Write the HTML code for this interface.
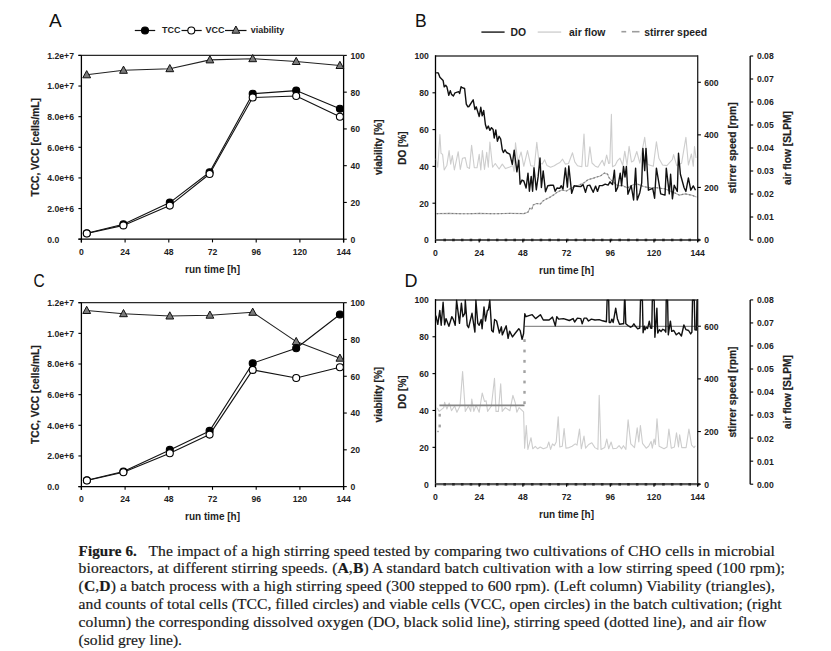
<!DOCTYPE html>
<html><head><meta charset="utf-8"><title>Figure 6</title>
<style>
html,body{margin:0;padding:0;background:#fff;}
body{width:831px;height:651px;overflow:hidden;}
svg{display:block;}
text{font-family:"Liberation Sans", sans-serif;}
text.cap{font-family:"Liberation Serif", serif;}
</style></head>
<body>
<svg width="831" height="651" viewBox="0 0 831 651">
<rect width="831" height="651" fill="#fff"/>
<line x1="78.4" y1="55.4" x2="343.6" y2="55.4" stroke="#2a2a2a" stroke-width="1.3" />
<line x1="81.4" y1="55.4" x2="81.4" y2="242.39999999999998" stroke="#000" stroke-width="1.3" />
<line x1="78.4" y1="239.2" x2="343.6" y2="239.2" stroke="#000" stroke-width="1.3" />
<line x1="343.6" y1="55.4" x2="343.6" y2="242.39999999999998" stroke="#000" stroke-width="1.3" />
<line x1="78.4" y1="239.2" x2="81.4" y2="239.2" stroke="#000" stroke-width="1.1" />
<text transform="translate(47.30,242.60) scale(0.92,1)" font-size="9.4" text-anchor="start" font-weight="bold" fill="#1e1e1e">0.0</text>
<line x1="78.4" y1="208.56666666666666" x2="81.4" y2="208.56666666666666" stroke="#000" stroke-width="1.1" />
<text transform="translate(47.30,211.97) scale(0.92,1)" font-size="9.4" text-anchor="start" font-weight="bold" fill="#1e1e1e">2.0e+6</text>
<line x1="78.4" y1="177.93333333333334" x2="81.4" y2="177.93333333333334" stroke="#000" stroke-width="1.1" />
<text transform="translate(47.30,181.33) scale(0.92,1)" font-size="9.4" text-anchor="start" font-weight="bold" fill="#1e1e1e">4.0e+6</text>
<line x1="78.4" y1="147.3" x2="81.4" y2="147.3" stroke="#000" stroke-width="1.1" />
<text transform="translate(47.30,150.70) scale(0.92,1)" font-size="9.4" text-anchor="start" font-weight="bold" fill="#1e1e1e">6.0e+6</text>
<line x1="78.4" y1="116.66666666666667" x2="81.4" y2="116.66666666666667" stroke="#000" stroke-width="1.1" />
<text transform="translate(47.30,120.07) scale(0.92,1)" font-size="9.4" text-anchor="start" font-weight="bold" fill="#1e1e1e">8.0e+6</text>
<line x1="78.4" y1="86.03333333333333" x2="81.4" y2="86.03333333333333" stroke="#000" stroke-width="1.1" />
<text transform="translate(47.30,89.43) scale(0.92,1)" font-size="9.4" text-anchor="start" font-weight="bold" fill="#1e1e1e">1.0e+7</text>
<line x1="78.4" y1="55.400000000000006" x2="81.4" y2="55.400000000000006" stroke="#000" stroke-width="1.1" />
<text transform="translate(47.30,58.80) scale(0.92,1)" font-size="9.4" text-anchor="start" font-weight="bold" fill="#1e1e1e">1.2e+7</text>
<line x1="343.6" y1="239.2" x2="346.8" y2="239.2" stroke="#000" stroke-width="1.1" />
<text transform="translate(350.40,242.60) scale(0.92,1)" font-size="9.4" text-anchor="start" font-weight="bold" fill="#1e1e1e">0</text>
<line x1="343.6" y1="202.44" x2="346.8" y2="202.44" stroke="#000" stroke-width="1.1" />
<text transform="translate(350.40,205.84) scale(0.92,1)" font-size="9.4" text-anchor="start" font-weight="bold" fill="#1e1e1e">20</text>
<line x1="343.6" y1="165.68" x2="346.8" y2="165.68" stroke="#000" stroke-width="1.1" />
<text transform="translate(350.40,169.08) scale(0.92,1)" font-size="9.4" text-anchor="start" font-weight="bold" fill="#1e1e1e">40</text>
<line x1="343.6" y1="128.92" x2="346.8" y2="128.92" stroke="#000" stroke-width="1.1" />
<text transform="translate(350.40,132.32) scale(0.92,1)" font-size="9.4" text-anchor="start" font-weight="bold" fill="#1e1e1e">60</text>
<line x1="343.6" y1="92.16" x2="346.8" y2="92.16" stroke="#000" stroke-width="1.1" />
<text transform="translate(350.40,95.56) scale(0.92,1)" font-size="9.4" text-anchor="start" font-weight="bold" fill="#1e1e1e">80</text>
<line x1="343.6" y1="55.400000000000006" x2="346.8" y2="55.400000000000006" stroke="#000" stroke-width="1.1" />
<text transform="translate(350.40,58.80) scale(0.92,1)" font-size="9.4" text-anchor="start" font-weight="bold" fill="#1e1e1e">100</text>
<line x1="81.4" y1="239.2" x2="81.4" y2="242.39999999999998" stroke="#000" stroke-width="1.1" />
<text transform="translate(81.40,255.00) scale(0.92,1)" font-size="9.4" text-anchor="middle" font-weight="bold" fill="#1e1e1e">0</text>
<line x1="125.10000000000002" y1="239.2" x2="125.10000000000002" y2="242.39999999999998" stroke="#000" stroke-width="1.1" />
<text transform="translate(125.10,255.00) scale(0.92,1)" font-size="9.4" text-anchor="middle" font-weight="bold" fill="#1e1e1e">24</text>
<line x1="168.8" y1="239.2" x2="168.8" y2="242.39999999999998" stroke="#000" stroke-width="1.1" />
<text transform="translate(168.80,255.00) scale(0.92,1)" font-size="9.4" text-anchor="middle" font-weight="bold" fill="#1e1e1e">48</text>
<line x1="212.50000000000003" y1="239.2" x2="212.50000000000003" y2="242.39999999999998" stroke="#000" stroke-width="1.1" />
<text transform="translate(212.50,255.00) scale(0.92,1)" font-size="9.4" text-anchor="middle" font-weight="bold" fill="#1e1e1e">72</text>
<line x1="256.20000000000005" y1="239.2" x2="256.20000000000005" y2="242.39999999999998" stroke="#000" stroke-width="1.1" />
<text transform="translate(256.20,255.00) scale(0.92,1)" font-size="9.4" text-anchor="middle" font-weight="bold" fill="#1e1e1e">96</text>
<line x1="299.90000000000003" y1="239.2" x2="299.90000000000003" y2="242.39999999999998" stroke="#000" stroke-width="1.1" />
<text transform="translate(299.90,255.00) scale(0.92,1)" font-size="9.4" text-anchor="middle" font-weight="bold" fill="#1e1e1e">120</text>
<line x1="343.6" y1="239.2" x2="343.6" y2="242.39999999999998" stroke="#000" stroke-width="1.1" />
<text transform="translate(343.60,255.00) scale(0.92,1)" font-size="9.4" text-anchor="middle" font-weight="bold" fill="#1e1e1e">144</text>
<polyline points="86.7,74.8 123.5,70.3 169.8,68.7 209.9,59.9 252.7,58.7 296.2,61.5 339.9,65.5" fill="none" stroke="#222" stroke-width="1.1" stroke-linejoin="round" />
<polyline points="86.8,233.3 123.4,224.3 169.8,202.6 209.6,172.2 252.7,93.7 296.2,90.6 339.9,108.7" fill="none" stroke="#111" stroke-width="1.1" stroke-linejoin="round" />
<polyline points="86.8,233.5 123.4,225.4 169.8,205.6 209.6,174.0 252.7,97.5 296.2,96.0 339.9,116.8" fill="none" stroke="#111" stroke-width="1.1" stroke-linejoin="round" />
<path d="M86.7,70.6 L90.60000000000001,77.8 L82.8,77.8 Z" fill="#7a7a7a" stroke="#111" stroke-width="1"/>
<path d="M123.5,66.1 L127.4,73.3 L119.6,73.3 Z" fill="#7a7a7a" stroke="#111" stroke-width="1"/>
<path d="M169.8,64.5 L173.70000000000002,71.7 L165.9,71.7 Z" fill="#7a7a7a" stroke="#111" stroke-width="1"/>
<path d="M209.9,55.7 L213.8,62.9 L206.0,62.9 Z" fill="#7a7a7a" stroke="#111" stroke-width="1"/>
<path d="M252.7,54.50000000000001 L256.59999999999997,61.7 L248.79999999999998,61.7 Z" fill="#7a7a7a" stroke="#111" stroke-width="1"/>
<path d="M296.2,57.300000000000004 L300.09999999999997,64.5 L292.3,64.5 Z" fill="#7a7a7a" stroke="#111" stroke-width="1"/>
<path d="M339.9,61.3 L343.79999999999995,68.5 L336.0,68.5 Z" fill="#7a7a7a" stroke="#111" stroke-width="1"/>
<circle cx="86.8" cy="233.3" r="3.5" fill="#000" stroke="#000" stroke-width="1.1"/>
<circle cx="123.4" cy="224.3" r="3.5" fill="#000" stroke="#000" stroke-width="1.1"/>
<circle cx="169.8" cy="202.6" r="3.5" fill="#000" stroke="#000" stroke-width="1.1"/>
<circle cx="209.6" cy="172.2" r="3.5" fill="#000" stroke="#000" stroke-width="1.1"/>
<circle cx="252.7" cy="93.7" r="3.5" fill="#000" stroke="#000" stroke-width="1.1"/>
<circle cx="296.2" cy="90.6" r="3.5" fill="#000" stroke="#000" stroke-width="1.1"/>
<circle cx="339.9" cy="108.7" r="3.5" fill="#000" stroke="#000" stroke-width="1.1"/>
<circle cx="86.8" cy="233.5" r="3.5" fill="#fff" stroke="#000" stroke-width="1.1"/>
<circle cx="123.4" cy="225.4" r="3.5" fill="#fff" stroke="#000" stroke-width="1.1"/>
<circle cx="169.8" cy="205.6" r="3.5" fill="#fff" stroke="#000" stroke-width="1.1"/>
<circle cx="209.6" cy="174.0" r="3.5" fill="#fff" stroke="#000" stroke-width="1.1"/>
<circle cx="252.7" cy="97.5" r="3.5" fill="#fff" stroke="#000" stroke-width="1.1"/>
<circle cx="296.2" cy="96.0" r="3.5" fill="#fff" stroke="#000" stroke-width="1.1"/>
<circle cx="339.9" cy="116.8" r="3.5" fill="#fff" stroke="#000" stroke-width="1.1"/>
<text x="212.5" y="273.0" font-size="10" text-anchor="middle" font-weight="bold" fill="#1e1e1e" >run time [h]</text>
<text transform="translate(35.7,147.29999999999998) rotate(-90)" x="0" y="3.67" font-size="10.2" text-anchor="middle" font-weight="bold" fill="#1e1e1e" stroke="#1e1e1e" stroke-width="0.2">TCC, VCC [cells/mL]</text>
<text transform="translate(378.6,147.29999999999998) rotate(-90)" x="0" y="3.60" font-size="10" text-anchor="middle" font-weight="bold" fill="#1e1e1e" stroke="#1e1e1e" stroke-width="0.2">viability [%]</text>
<line x1="78.4" y1="302.7" x2="343.6" y2="302.7" stroke="#2a2a2a" stroke-width="1.3" />
<line x1="81.4" y1="302.7" x2="81.4" y2="489.8" stroke="#000" stroke-width="1.3" />
<line x1="78.4" y1="486.6" x2="343.6" y2="486.6" stroke="#000" stroke-width="1.3" />
<line x1="343.6" y1="302.7" x2="343.6" y2="489.8" stroke="#000" stroke-width="1.3" />
<line x1="78.4" y1="486.6" x2="81.4" y2="486.6" stroke="#000" stroke-width="1.1" />
<text transform="translate(47.30,490.00) scale(0.92,1)" font-size="9.4" text-anchor="start" font-weight="bold" fill="#1e1e1e">0.0</text>
<line x1="78.4" y1="455.95000000000005" x2="81.4" y2="455.95000000000005" stroke="#000" stroke-width="1.1" />
<text transform="translate(47.30,459.35) scale(0.92,1)" font-size="9.4" text-anchor="start" font-weight="bold" fill="#1e1e1e">2.0e+6</text>
<line x1="78.4" y1="425.3" x2="81.4" y2="425.3" stroke="#000" stroke-width="1.1" />
<text transform="translate(47.30,428.70) scale(0.92,1)" font-size="9.4" text-anchor="start" font-weight="bold" fill="#1e1e1e">4.0e+6</text>
<line x1="78.4" y1="394.65000000000003" x2="81.4" y2="394.65000000000003" stroke="#000" stroke-width="1.1" />
<text transform="translate(47.30,398.05) scale(0.92,1)" font-size="9.4" text-anchor="start" font-weight="bold" fill="#1e1e1e">6.0e+6</text>
<line x1="78.4" y1="364.0" x2="81.4" y2="364.0" stroke="#000" stroke-width="1.1" />
<text transform="translate(47.30,367.40) scale(0.92,1)" font-size="9.4" text-anchor="start" font-weight="bold" fill="#1e1e1e">8.0e+6</text>
<line x1="78.4" y1="333.35" x2="81.4" y2="333.35" stroke="#000" stroke-width="1.1" />
<text transform="translate(47.30,336.75) scale(0.92,1)" font-size="9.4" text-anchor="start" font-weight="bold" fill="#1e1e1e">1.0e+7</text>
<line x1="78.4" y1="302.70000000000005" x2="81.4" y2="302.70000000000005" stroke="#000" stroke-width="1.1" />
<text transform="translate(47.30,306.10) scale(0.92,1)" font-size="9.4" text-anchor="start" font-weight="bold" fill="#1e1e1e">1.2e+7</text>
<line x1="343.6" y1="486.6" x2="346.8" y2="486.6" stroke="#000" stroke-width="1.1" />
<text transform="translate(350.40,490.00) scale(0.92,1)" font-size="9.4" text-anchor="start" font-weight="bold" fill="#1e1e1e">0</text>
<line x1="343.6" y1="449.82" x2="346.8" y2="449.82" stroke="#000" stroke-width="1.1" />
<text transform="translate(350.40,453.22) scale(0.92,1)" font-size="9.4" text-anchor="start" font-weight="bold" fill="#1e1e1e">20</text>
<line x1="343.6" y1="413.04" x2="346.8" y2="413.04" stroke="#000" stroke-width="1.1" />
<text transform="translate(350.40,416.44) scale(0.92,1)" font-size="9.4" text-anchor="start" font-weight="bold" fill="#1e1e1e">40</text>
<line x1="343.6" y1="376.26" x2="346.8" y2="376.26" stroke="#000" stroke-width="1.1" />
<text transform="translate(350.40,379.66) scale(0.92,1)" font-size="9.4" text-anchor="start" font-weight="bold" fill="#1e1e1e">60</text>
<line x1="343.6" y1="339.48" x2="346.8" y2="339.48" stroke="#000" stroke-width="1.1" />
<text transform="translate(350.40,342.88) scale(0.92,1)" font-size="9.4" text-anchor="start" font-weight="bold" fill="#1e1e1e">80</text>
<line x1="343.6" y1="302.7" x2="346.8" y2="302.7" stroke="#000" stroke-width="1.1" />
<text transform="translate(350.40,306.10) scale(0.92,1)" font-size="9.4" text-anchor="start" font-weight="bold" fill="#1e1e1e">100</text>
<line x1="81.4" y1="486.6" x2="81.4" y2="489.8" stroke="#000" stroke-width="1.1" />
<text transform="translate(81.40,502.40) scale(0.92,1)" font-size="9.4" text-anchor="middle" font-weight="bold" fill="#1e1e1e">0</text>
<line x1="125.10000000000002" y1="486.6" x2="125.10000000000002" y2="489.8" stroke="#000" stroke-width="1.1" />
<text transform="translate(125.10,502.40) scale(0.92,1)" font-size="9.4" text-anchor="middle" font-weight="bold" fill="#1e1e1e">24</text>
<line x1="168.8" y1="486.6" x2="168.8" y2="489.8" stroke="#000" stroke-width="1.1" />
<text transform="translate(168.80,502.40) scale(0.92,1)" font-size="9.4" text-anchor="middle" font-weight="bold" fill="#1e1e1e">48</text>
<line x1="212.50000000000003" y1="486.6" x2="212.50000000000003" y2="489.8" stroke="#000" stroke-width="1.1" />
<text transform="translate(212.50,502.40) scale(0.92,1)" font-size="9.4" text-anchor="middle" font-weight="bold" fill="#1e1e1e">72</text>
<line x1="256.20000000000005" y1="486.6" x2="256.20000000000005" y2="489.8" stroke="#000" stroke-width="1.1" />
<text transform="translate(256.20,502.40) scale(0.92,1)" font-size="9.4" text-anchor="middle" font-weight="bold" fill="#1e1e1e">96</text>
<line x1="299.90000000000003" y1="486.6" x2="299.90000000000003" y2="489.8" stroke="#000" stroke-width="1.1" />
<text transform="translate(299.90,502.40) scale(0.92,1)" font-size="9.4" text-anchor="middle" font-weight="bold" fill="#1e1e1e">120</text>
<line x1="343.6" y1="486.6" x2="343.6" y2="489.8" stroke="#000" stroke-width="1.1" />
<text transform="translate(343.60,502.40) scale(0.92,1)" font-size="9.4" text-anchor="middle" font-weight="bold" fill="#1e1e1e">144</text>
<polyline points="86.7,310.5 123.5,313.7 169.8,316.0 209.9,315.2 252.7,312.3 296.2,341.6 339.9,358.2" fill="none" stroke="#222" stroke-width="1.1" stroke-linejoin="round" />
<polyline points="86.9,480.3 123.4,471.5 169.8,449.9 209.6,430.9 252.7,363.2 296.2,348.2 339.9,314.5" fill="none" stroke="#111" stroke-width="1.1" stroke-linejoin="round" />
<polyline points="86.9,480.5 123.4,472.3 169.8,453.3 209.6,434.6 252.7,369.9 296.2,378.0 339.9,367.2" fill="none" stroke="#111" stroke-width="1.1" stroke-linejoin="round" />
<path d="M86.7,306.3 L90.60000000000001,313.5 L82.8,313.5 Z" fill="#7a7a7a" stroke="#111" stroke-width="1"/>
<path d="M123.5,309.5 L127.4,316.7 L119.6,316.7 Z" fill="#7a7a7a" stroke="#111" stroke-width="1"/>
<path d="M169.8,311.8 L173.70000000000002,319.0 L165.9,319.0 Z" fill="#7a7a7a" stroke="#111" stroke-width="1"/>
<path d="M209.9,311.0 L213.8,318.2 L206.0,318.2 Z" fill="#7a7a7a" stroke="#111" stroke-width="1"/>
<path d="M252.7,308.1 L256.59999999999997,315.3 L248.79999999999998,315.3 Z" fill="#7a7a7a" stroke="#111" stroke-width="1"/>
<path d="M296.2,337.40000000000003 L300.09999999999997,344.6 L292.3,344.6 Z" fill="#7a7a7a" stroke="#111" stroke-width="1"/>
<path d="M339.9,354.0 L343.79999999999995,361.2 L336.0,361.2 Z" fill="#7a7a7a" stroke="#111" stroke-width="1"/>
<circle cx="86.9" cy="480.3" r="3.5" fill="#000" stroke="#000" stroke-width="1.1"/>
<circle cx="123.4" cy="471.5" r="3.5" fill="#000" stroke="#000" stroke-width="1.1"/>
<circle cx="169.8" cy="449.9" r="3.5" fill="#000" stroke="#000" stroke-width="1.1"/>
<circle cx="209.6" cy="430.9" r="3.5" fill="#000" stroke="#000" stroke-width="1.1"/>
<circle cx="252.7" cy="363.2" r="3.5" fill="#000" stroke="#000" stroke-width="1.1"/>
<circle cx="296.2" cy="348.2" r="3.5" fill="#000" stroke="#000" stroke-width="1.1"/>
<circle cx="339.9" cy="314.5" r="3.5" fill="#000" stroke="#000" stroke-width="1.1"/>
<circle cx="86.9" cy="480.5" r="3.5" fill="#fff" stroke="#000" stroke-width="1.1"/>
<circle cx="123.4" cy="472.3" r="3.5" fill="#fff" stroke="#000" stroke-width="1.1"/>
<circle cx="169.8" cy="453.3" r="3.5" fill="#fff" stroke="#000" stroke-width="1.1"/>
<circle cx="209.6" cy="434.6" r="3.5" fill="#fff" stroke="#000" stroke-width="1.1"/>
<circle cx="252.7" cy="369.9" r="3.5" fill="#fff" stroke="#000" stroke-width="1.1"/>
<circle cx="296.2" cy="378.0" r="3.5" fill="#fff" stroke="#000" stroke-width="1.1"/>
<circle cx="339.9" cy="367.2" r="3.5" fill="#fff" stroke="#000" stroke-width="1.1"/>
<text x="212.5" y="520.4" font-size="10" text-anchor="middle" font-weight="bold" fill="#1e1e1e" >run time [h]</text>
<text transform="translate(35.7,394.65) rotate(-90)" x="0" y="3.67" font-size="10.2" text-anchor="middle" font-weight="bold" fill="#1e1e1e" stroke="#1e1e1e" stroke-width="0.2">TCC, VCC [cells/mL]</text>
<text transform="translate(378.6,394.65) rotate(-90)" x="0" y="3.60" font-size="10" text-anchor="middle" font-weight="bold" fill="#1e1e1e" stroke="#1e1e1e" stroke-width="0.2">viability [%]</text>
<line x1="134.8" y1="30.5" x2="155.2" y2="30.5" stroke="#111" stroke-width="1.2" />
<circle cx="145" cy="30.5" r="3.5" fill="#000" stroke="#000" stroke-width="1.1"/>
<text x="162.0" y="33.3" font-size="9.0" text-anchor="start" font-weight="bold" fill="#1e1e1e" >TCC</text>
<line x1="181.5" y1="30.5" x2="201.7" y2="30.5" stroke="#111" stroke-width="1.2" />
<circle cx="191.3" cy="30.5" r="3.5" fill="#fff" stroke="#000" stroke-width="1.1"/>
<text x="205.6" y="33.3" font-size="9.0" text-anchor="start" font-weight="bold" fill="#1e1e1e" >VCC</text>
<line x1="225.0" y1="30.5" x2="246.5" y2="30.5" stroke="#111" stroke-width="1.2" />
<path d="M235.9,26.0 L239.8,33.2 L232.0,33.2 Z" fill="#7a7a7a" stroke="#111" stroke-width="1"/>
<text x="250.8" y="33.3" font-size="9.0" text-anchor="start" font-weight="bold" fill="#1e1e1e" >viability</text>
<text x="49.0" y="26.8" font-size="19" fill="#111">A</text>
<text x="415.0" y="26.9" font-size="17.5" fill="#111">B</text>
<text transform="translate(33.6,287.4) scale(0.84,1)" font-size="18.5" fill="#111">C</text>
<text x="404.6" y="287.4" font-size="18" fill="#111">D</text>
<line x1="435.5" y1="56.0" x2="697.7" y2="56.0" stroke="#6e6e6e" stroke-width="2" />
<line x1="435.5" y1="55.2" x2="435.5" y2="243.0" stroke="#000" stroke-width="1.3" />
<line x1="435.5" y1="240.0" x2="697.7" y2="240.0" stroke="#5a5a5a" stroke-width="2.2" />
<line x1="697.7" y1="55.2" x2="697.7" y2="242.0" stroke="#222" stroke-width="1.3" />
<line x1="443.4" y1="240.0" x2="699.7" y2="240.0" stroke="#262626" stroke-width="2.4" stroke-dasharray="2.6 6.15"/>
<text transform="translate(428.90,243.40) scale(0.92,1)" font-size="9.4" text-anchor="end" font-weight="bold" fill="#1e1e1e">0</text>
<line x1="432.5" y1="203.2" x2="435.5" y2="203.2" stroke="#000" stroke-width="1.1" />
<text transform="translate(428.90,206.60) scale(0.92,1)" font-size="9.4" text-anchor="end" font-weight="bold" fill="#1e1e1e">20</text>
<line x1="432.5" y1="166.4" x2="435.5" y2="166.4" stroke="#000" stroke-width="1.1" />
<text transform="translate(428.90,169.80) scale(0.92,1)" font-size="9.4" text-anchor="end" font-weight="bold" fill="#1e1e1e">40</text>
<line x1="432.5" y1="129.6" x2="435.5" y2="129.6" stroke="#000" stroke-width="1.1" />
<text transform="translate(428.90,133.00) scale(0.92,1)" font-size="9.4" text-anchor="end" font-weight="bold" fill="#1e1e1e">60</text>
<line x1="432.5" y1="92.80000000000001" x2="435.5" y2="92.80000000000001" stroke="#000" stroke-width="1.1" />
<text transform="translate(428.90,96.20) scale(0.92,1)" font-size="9.4" text-anchor="end" font-weight="bold" fill="#1e1e1e">80</text>
<text transform="translate(428.90,59.40) scale(0.92,1)" font-size="9.4" text-anchor="end" font-weight="bold" fill="#1e1e1e">100</text>
<line x1="435.5" y1="240.0" x2="435.5" y2="242.6" stroke="#000" stroke-width="1.1" />
<text transform="translate(435.50,255.80) scale(0.92,1)" font-size="9.4" text-anchor="middle" font-weight="bold" fill="#1e1e1e">0</text>
<line x1="479.2" y1="240.0" x2="479.2" y2="242.6" stroke="#000" stroke-width="1.1" />
<text transform="translate(479.20,255.80) scale(0.92,1)" font-size="9.4" text-anchor="middle" font-weight="bold" fill="#1e1e1e">24</text>
<line x1="522.9" y1="240.0" x2="522.9" y2="242.6" stroke="#000" stroke-width="1.1" />
<text transform="translate(522.90,255.80) scale(0.92,1)" font-size="9.4" text-anchor="middle" font-weight="bold" fill="#1e1e1e">48</text>
<line x1="566.6" y1="240.0" x2="566.6" y2="242.6" stroke="#000" stroke-width="1.1" />
<text transform="translate(566.60,255.80) scale(0.92,1)" font-size="9.4" text-anchor="middle" font-weight="bold" fill="#1e1e1e">72</text>
<line x1="610.3000000000001" y1="240.0" x2="610.3000000000001" y2="242.6" stroke="#000" stroke-width="1.1" />
<text transform="translate(610.30,255.80) scale(0.92,1)" font-size="9.4" text-anchor="middle" font-weight="bold" fill="#1e1e1e">96</text>
<line x1="654.0" y1="240.0" x2="654.0" y2="242.6" stroke="#000" stroke-width="1.1" />
<text transform="translate(654.00,255.80) scale(0.92,1)" font-size="9.4" text-anchor="middle" font-weight="bold" fill="#1e1e1e">120</text>
<line x1="697.7" y1="240.0" x2="697.7" y2="242.6" stroke="#000" stroke-width="1.1" />
<text transform="translate(697.70,255.80) scale(0.92,1)" font-size="9.4" text-anchor="middle" font-weight="bold" fill="#1e1e1e">144</text>
<line x1="697.7" y1="240.0" x2="700.9000000000001" y2="240.0" stroke="#000" stroke-width="1.1" />
<text transform="translate(704.20,243.40) scale(0.92,1)" font-size="9.4" text-anchor="start" font-weight="bold" fill="#1e1e1e">0</text>
<line x1="697.7" y1="187.42857142857144" x2="700.9000000000001" y2="187.42857142857144" stroke="#000" stroke-width="1.1" />
<text transform="translate(704.20,190.83) scale(0.92,1)" font-size="9.4" text-anchor="start" font-weight="bold" fill="#1e1e1e">200</text>
<line x1="697.7" y1="134.85714285714286" x2="700.9000000000001" y2="134.85714285714286" stroke="#000" stroke-width="1.1" />
<text transform="translate(704.20,138.26) scale(0.92,1)" font-size="9.4" text-anchor="start" font-weight="bold" fill="#1e1e1e">400</text>
<line x1="697.7" y1="82.28571428571428" x2="700.9000000000001" y2="82.28571428571428" stroke="#000" stroke-width="1.1" />
<text transform="translate(704.20,85.69) scale(0.92,1)" font-size="9.4" text-anchor="start" font-weight="bold" fill="#1e1e1e">600</text>
<line x1="750.2" y1="56.0" x2="750.2" y2="240.0" stroke="#222" stroke-width="1.5" />
<line x1="750.2" y1="240.0" x2="753.2" y2="240.0" stroke="#000" stroke-width="1.1" />
<text transform="translate(756.90,243.40) scale(0.92,1)" font-size="9.4" text-anchor="start" font-weight="bold" fill="#1e1e1e">0.00</text>
<line x1="750.2" y1="217.0" x2="753.2" y2="217.0" stroke="#000" stroke-width="1.1" />
<text transform="translate(756.90,220.40) scale(0.92,1)" font-size="9.4" text-anchor="start" font-weight="bold" fill="#1e1e1e">0.01</text>
<line x1="750.2" y1="194.0" x2="753.2" y2="194.0" stroke="#000" stroke-width="1.1" />
<text transform="translate(756.90,197.40) scale(0.92,1)" font-size="9.4" text-anchor="start" font-weight="bold" fill="#1e1e1e">0.02</text>
<line x1="750.2" y1="171.0" x2="753.2" y2="171.0" stroke="#000" stroke-width="1.1" />
<text transform="translate(756.90,174.40) scale(0.92,1)" font-size="9.4" text-anchor="start" font-weight="bold" fill="#1e1e1e">0.03</text>
<line x1="750.2" y1="148.0" x2="753.2" y2="148.0" stroke="#000" stroke-width="1.1" />
<text transform="translate(756.90,151.40) scale(0.92,1)" font-size="9.4" text-anchor="start" font-weight="bold" fill="#1e1e1e">0.04</text>
<line x1="750.2" y1="125.0" x2="753.2" y2="125.0" stroke="#000" stroke-width="1.1" />
<text transform="translate(756.90,128.40) scale(0.92,1)" font-size="9.4" text-anchor="start" font-weight="bold" fill="#1e1e1e">0.05</text>
<line x1="750.2" y1="102.0" x2="753.2" y2="102.0" stroke="#000" stroke-width="1.1" />
<text transform="translate(756.90,105.40) scale(0.92,1)" font-size="9.4" text-anchor="start" font-weight="bold" fill="#1e1e1e">0.06</text>
<line x1="750.2" y1="79.0" x2="753.2" y2="79.0" stroke="#000" stroke-width="1.1" />
<text transform="translate(756.90,82.40) scale(0.92,1)" font-size="9.4" text-anchor="start" font-weight="bold" fill="#1e1e1e">0.07</text>
<line x1="750.2" y1="56.0" x2="753.2" y2="56.0" stroke="#000" stroke-width="1.1" />
<text transform="translate(756.90,59.40) scale(0.92,1)" font-size="9.4" text-anchor="start" font-weight="bold" fill="#1e1e1e">0.08</text>
<polyline points="436.2,158.7 437.8,167.3 439.9,134.5 441.0,153.3 442.6,154.4 444.2,170.0 446.9,165.2 449.1,150.6 450.7,164.1 452.3,155.5 454.4,170.0 458.2,151.7 460.3,169.5 462.5,158.2 465.2,157.6 467.3,167.3 469.5,168.4 471.6,145.3 474.3,167.8 477.0,167.8 479.2,154.4 480.8,170.0 482.4,150.6 484.5,169.5 486.7,152.3 488.3,167.3 489.9,142.0 492.6,167.3 495.3,163.5 499.1,169.0 502.3,164.1 505.5,168.6 509.8,167.0 512.8,165.4 514.1,171.3 515.5,142.8 517.8,162.1 521.1,152.0 523.8,166.3 527.5,150.6 530.8,165.8 534.4,166.3 536.8,142.3 539.1,163.1 542.3,164.0 544.6,159.8 546.9,165.4 550.6,167.2 554.3,165.8 557.0,164.0 559.9,162.5 562.6,159.2 565.3,164.1 568.5,163.5 572.5,152.8 574.8,161.9 577.5,165.7 581.8,166.8 584.0,134.0 585.6,166.2 587.7,166.2 589.9,146.9 592.0,163.0 595.3,166.2 598.0,167.3 602.3,160.3 604.4,165.7 606.6,155.0 608.7,163.5 609.8,163.0 611.4,114.4 612.5,166.8 615.2,165.2 617.3,160.9 620.0,158.2 622.7,165.2 624.8,151.2 627.0,165.2 629.1,146.3 631.5,162.0 633.7,160.7 636.8,151.5 639.8,163.2 644.7,137.4 647.8,164.4 653.3,166.3 656.4,141.7 658.9,158.3 662.6,165.0 666.9,165.6 672.4,159.5 673.6,154.6 676.7,165.6 681.6,163.2 685.9,137.4 688.4,165.0 691.4,154.0 693.3,166.3 694.5,146.6 696.0,158.0" fill="none" stroke="#cdcdcd" stroke-width="1.1" stroke-linejoin="round" />
<polyline points="436.5,213.6 450.0,213.4 465.0,213.8 480.0,213.4 495.0,213.7 510.0,213.4 524.1,213.6 527.9,212.2 529.8,208.3 531.8,209.3 533.2,204.9 536.6,203.5 540.4,204.0 542.8,201.1 545.2,199.6 549.1,197.7 553.9,194.8 556.8,192.4 561.6,190.0 566.4,191.0 571.2,188.1 576.0,186.2 579.9,184.7 584.1,182.7 587.9,179.8 592.7,178.4 596.6,177.0 600.4,176.0 604.3,173.1 607.6,174.1 609.1,177.9 612.0,180.8 617.7,185.6 622.6,185.6 627.4,188.0 633.1,184.6 637.4,184.1 643.5,186.5 649.7,187.8 657.0,187.8 665.6,189.0 674.2,192.7 679.2,195.1 685.3,193.9 691.4,195.1 696.4,197.0" fill="none" stroke="#b4b4b4" stroke-width="1.1" stroke-linejoin="round" />
<polyline points="436.5,213.6 450.0,213.4 465.0,213.8 480.0,213.4 495.0,213.7 510.0,213.4 524.1,213.6 527.9,212.2 529.8,208.3 531.8,209.3 533.2,204.9 536.6,203.5 540.4,204.0 542.8,201.1 545.2,199.6 549.1,197.7 553.9,194.8 556.8,192.4 561.6,190.0 566.4,191.0 571.2,188.1 576.0,186.2 579.9,184.7 584.1,182.7 587.9,179.8 592.7,178.4 596.6,177.0 600.4,176.0 604.3,173.1 607.6,174.1 609.1,177.9 612.0,180.8 617.7,185.6 622.6,185.6 627.4,188.0 633.1,184.6 637.4,184.1 643.5,186.5 649.7,187.8 657.0,187.8 665.6,189.0 674.2,192.7 679.2,195.1 685.3,193.9 691.4,195.1 696.4,197.0" fill="none" stroke="#7c7c7c" stroke-width="1.1" stroke-linejoin="round" stroke-dasharray="1.6 2.2"/>
<polyline points="436.2,72.7 438.3,72.9 439.9,77.2 443.1,80.4 444.2,86.9 445.8,85.3 446.9,86.9 448.8,95.3 450.3,90.6 451.5,94.4 453.4,96.0 455.0,92.8 458.7,91.7 459.6,93.5 461.1,86.7 462.2,87.7 464.6,88.5 466.3,104.1 467.9,106.8 468.9,106.5 473.2,99.8 474.9,109.5 476.2,106.8 479.2,116.5 480.8,107.3 482.2,115.9 483.7,110.5 485.4,124.5 486.7,128.8 488.3,126.1 489.9,130.4 491.5,127.7 493.1,129.4 494.2,138.0 495.8,129.9 497.4,141.2 499.1,136.3 500.7,139.0 502.3,149.8 503.4,152.5 505.0,149.8 506.6,152.5 509.8,154.1 512.3,164.4 514.2,150.1 516.9,171.8 518.8,160.3 520.1,184.3 522.0,180.1 523.8,181.0 526.1,188.0 528.0,173.2 529.4,191.2 531.2,176.4 532.6,191.2 534.0,167.7 536.3,189.8 538.1,176.9 540.0,158.0 541.4,187.5 543.2,170.9 545.5,191.7 547.8,185.7 550.6,185.2 553.4,185.2 555.2,191.2 557.0,188.0 559.8,188.4 561.1,185.7 563.0,189.1 565.4,167.9 567.4,187.1 568.8,166.0 571.7,193.4 574.1,185.7 577.0,186.2 580.7,186.6 583.1,184.6 585.5,192.3 587.4,185.6 589.8,185.1 593.2,192.3 595.6,186.1 597.5,191.4 599.5,185.6 602.3,185.6 605.2,184.2 608.1,185.1 610.0,181.8 612.5,184.6 614.4,170.2 615.8,191.4 617.7,187.5 620.2,173.1 621.6,185.6 623.5,166.4 625.0,177.0 626.4,166.4 627.9,194.3 631.2,185.6 633.6,200.0 635.6,168.3 637.2,200.0 639.8,192.7 641.7,182.8 642.9,148.4 644.7,170.6 646.0,148.4 648.4,190.2 652.7,188.4 654.6,198.2 656.4,168.1 660.7,193.9 665.0,195.1 666.3,168.1 669.3,193.9 670.6,174.2 672.4,198.8 674.2,185.3 677.3,191.4 678.5,153.3 680.4,174.2 684.1,187.8 685.9,191.4 688.4,177.9 690.8,190.2 693.3,185.9 695.5,190.2" fill="none" stroke="#111" stroke-width="1.4" stroke-linejoin="round" />
<text x="566.5" y="273.8" font-size="10" text-anchor="middle" font-weight="bold" fill="#1e1e1e" >run time [h]</text>
<text transform="translate(402.3,148.0) rotate(-90)" x="0" y="3.60" font-size="10" text-anchor="middle" font-weight="bold" fill="#1e1e1e" stroke="#1e1e1e" stroke-width="0.2">DO [%]</text>
<text transform="translate(732.3,148.0) rotate(-90)" x="0" y="3.69" font-size="10.25" text-anchor="middle" font-weight="bold" fill="#1e1e1e" stroke="#1e1e1e" stroke-width="0.2">stirrer speed [rpm]</text>
<text transform="translate(787.3,148.0) rotate(-90)" x="0" y="3.69" font-size="10.25" text-anchor="middle" font-weight="bold" fill="#1e1e1e" stroke="#1e1e1e" stroke-width="0.2">air flow [SLPM]</text>
<line x1="435.5" y1="299.9" x2="697.7" y2="299.9" stroke="#6e6e6e" stroke-width="2" />
<line x1="435.5" y1="299.09999999999997" x2="435.5" y2="487.2" stroke="#000" stroke-width="1.3" />
<line x1="435.5" y1="484.2" x2="697.7" y2="484.2" stroke="#5a5a5a" stroke-width="2.2" />
<line x1="697.7" y1="299.09999999999997" x2="697.7" y2="486.2" stroke="#222" stroke-width="1.3" />
<line x1="443.4" y1="484.2" x2="699.7" y2="484.2" stroke="#262626" stroke-width="2.4" stroke-dasharray="2.6 6.15"/>
<text transform="translate(428.90,487.60) scale(0.92,1)" font-size="9.4" text-anchor="end" font-weight="bold" fill="#1e1e1e">0</text>
<line x1="432.5" y1="447.34" x2="435.5" y2="447.34" stroke="#000" stroke-width="1.1" />
<text transform="translate(428.90,450.74) scale(0.92,1)" font-size="9.4" text-anchor="end" font-weight="bold" fill="#1e1e1e">20</text>
<line x1="432.5" y1="410.48" x2="435.5" y2="410.48" stroke="#000" stroke-width="1.1" />
<text transform="translate(428.90,413.88) scale(0.92,1)" font-size="9.4" text-anchor="end" font-weight="bold" fill="#1e1e1e">40</text>
<line x1="432.5" y1="373.62" x2="435.5" y2="373.62" stroke="#000" stroke-width="1.1" />
<text transform="translate(428.90,377.02) scale(0.92,1)" font-size="9.4" text-anchor="end" font-weight="bold" fill="#1e1e1e">60</text>
<line x1="432.5" y1="336.76" x2="435.5" y2="336.76" stroke="#000" stroke-width="1.1" />
<text transform="translate(428.90,340.16) scale(0.92,1)" font-size="9.4" text-anchor="end" font-weight="bold" fill="#1e1e1e">80</text>
<text transform="translate(428.90,303.30) scale(0.92,1)" font-size="9.4" text-anchor="end" font-weight="bold" fill="#1e1e1e">100</text>
<line x1="435.5" y1="484.2" x2="435.5" y2="486.8" stroke="#000" stroke-width="1.1" />
<text transform="translate(435.50,500.00) scale(0.92,1)" font-size="9.4" text-anchor="middle" font-weight="bold" fill="#1e1e1e">0</text>
<line x1="479.2" y1="484.2" x2="479.2" y2="486.8" stroke="#000" stroke-width="1.1" />
<text transform="translate(479.20,500.00) scale(0.92,1)" font-size="9.4" text-anchor="middle" font-weight="bold" fill="#1e1e1e">24</text>
<line x1="522.9" y1="484.2" x2="522.9" y2="486.8" stroke="#000" stroke-width="1.1" />
<text transform="translate(522.90,500.00) scale(0.92,1)" font-size="9.4" text-anchor="middle" font-weight="bold" fill="#1e1e1e">48</text>
<line x1="566.6" y1="484.2" x2="566.6" y2="486.8" stroke="#000" stroke-width="1.1" />
<text transform="translate(566.60,500.00) scale(0.92,1)" font-size="9.4" text-anchor="middle" font-weight="bold" fill="#1e1e1e">72</text>
<line x1="610.3000000000001" y1="484.2" x2="610.3000000000001" y2="486.8" stroke="#000" stroke-width="1.1" />
<text transform="translate(610.30,500.00) scale(0.92,1)" font-size="9.4" text-anchor="middle" font-weight="bold" fill="#1e1e1e">96</text>
<line x1="654.0" y1="484.2" x2="654.0" y2="486.8" stroke="#000" stroke-width="1.1" />
<text transform="translate(654.00,500.00) scale(0.92,1)" font-size="9.4" text-anchor="middle" font-weight="bold" fill="#1e1e1e">120</text>
<line x1="697.7" y1="484.2" x2="697.7" y2="486.8" stroke="#000" stroke-width="1.1" />
<text transform="translate(697.70,500.00) scale(0.92,1)" font-size="9.4" text-anchor="middle" font-weight="bold" fill="#1e1e1e">144</text>
<line x1="697.7" y1="484.2" x2="700.9000000000001" y2="484.2" stroke="#000" stroke-width="1.1" />
<text transform="translate(704.20,487.60) scale(0.92,1)" font-size="9.4" text-anchor="start" font-weight="bold" fill="#1e1e1e">0</text>
<line x1="697.7" y1="431.54285714285714" x2="700.9000000000001" y2="431.54285714285714" stroke="#000" stroke-width="1.1" />
<text transform="translate(704.20,434.94) scale(0.92,1)" font-size="9.4" text-anchor="start" font-weight="bold" fill="#1e1e1e">200</text>
<line x1="697.7" y1="378.88571428571424" x2="700.9000000000001" y2="378.88571428571424" stroke="#000" stroke-width="1.1" />
<text transform="translate(704.20,382.29) scale(0.92,1)" font-size="9.4" text-anchor="start" font-weight="bold" fill="#1e1e1e">400</text>
<line x1="697.7" y1="326.2285714285714" x2="700.9000000000001" y2="326.2285714285714" stroke="#000" stroke-width="1.1" />
<text transform="translate(704.20,329.63) scale(0.92,1)" font-size="9.4" text-anchor="start" font-weight="bold" fill="#1e1e1e">600</text>
<line x1="750.2" y1="299.9" x2="750.2" y2="484.2" stroke="#222" stroke-width="1.5" />
<line x1="750.2" y1="484.2" x2="753.2" y2="484.2" stroke="#000" stroke-width="1.1" />
<text transform="translate(756.90,487.60) scale(0.92,1)" font-size="9.4" text-anchor="start" font-weight="bold" fill="#1e1e1e">0.00</text>
<line x1="750.2" y1="461.16249999999997" x2="753.2" y2="461.16249999999997" stroke="#000" stroke-width="1.1" />
<text transform="translate(756.90,464.56) scale(0.92,1)" font-size="9.4" text-anchor="start" font-weight="bold" fill="#1e1e1e">0.01</text>
<line x1="750.2" y1="438.125" x2="753.2" y2="438.125" stroke="#000" stroke-width="1.1" />
<text transform="translate(756.90,441.52) scale(0.92,1)" font-size="9.4" text-anchor="start" font-weight="bold" fill="#1e1e1e">0.02</text>
<line x1="750.2" y1="415.0875" x2="753.2" y2="415.0875" stroke="#000" stroke-width="1.1" />
<text transform="translate(756.90,418.49) scale(0.92,1)" font-size="9.4" text-anchor="start" font-weight="bold" fill="#1e1e1e">0.03</text>
<line x1="750.2" y1="392.04999999999995" x2="753.2" y2="392.04999999999995" stroke="#000" stroke-width="1.1" />
<text transform="translate(756.90,395.45) scale(0.92,1)" font-size="9.4" text-anchor="start" font-weight="bold" fill="#1e1e1e">0.04</text>
<line x1="750.2" y1="369.0125" x2="753.2" y2="369.0125" stroke="#000" stroke-width="1.1" />
<text transform="translate(756.90,372.41) scale(0.92,1)" font-size="9.4" text-anchor="start" font-weight="bold" fill="#1e1e1e">0.05</text>
<line x1="750.2" y1="345.97499999999997" x2="753.2" y2="345.97499999999997" stroke="#000" stroke-width="1.1" />
<text transform="translate(756.90,349.37) scale(0.92,1)" font-size="9.4" text-anchor="start" font-weight="bold" fill="#1e1e1e">0.06</text>
<line x1="750.2" y1="322.9375" x2="753.2" y2="322.9375" stroke="#000" stroke-width="1.1" />
<text transform="translate(756.90,326.34) scale(0.92,1)" font-size="9.4" text-anchor="start" font-weight="bold" fill="#1e1e1e">0.07</text>
<line x1="750.2" y1="299.9" x2="753.2" y2="299.9" stroke="#000" stroke-width="1.1" />
<text transform="translate(756.90,303.30) scale(0.92,1)" font-size="9.4" text-anchor="start" font-weight="bold" fill="#1e1e1e">0.08</text>
<polyline points="436.1,407.6 437.4,408.4 439.2,411.4 443.8,407.6 444.6,402.2 446.9,409.1 449.2,403.0 451.5,410.7 454.6,406.0 456.9,412.2 460.0,406.0 462.6,371.5 465.3,411.4 468.4,406.0 470.7,411.4 471.8,399.1 473.8,411.4 476.1,405.3 479.2,412.2 482.2,393.0 484.5,401.4 486.1,400.7 487.6,411.4 491.4,406.0 494.5,378.4 496.0,411.4 498.4,411.4 500.7,383.8 502.2,411.4 505.3,407.6 509.9,410.7 512.9,395.3 515.3,403.0 516.8,412.2 519.1,407.6 521.8,410.1 523.6,411.9 524.6,448.2 526.3,425.5 527.9,449.4 531.0,437.7 532.8,448.8 535.3,446.3 537.7,448.8 540.2,447.0 543.3,448.8 546.9,447.6 548.8,442.0 550.6,449.4 552.5,443.9 554.3,445.7 556.2,442.0 558.2,416.9 559.8,447.0 562.3,446.3 564.1,428.5 566.0,448.2 569.1,447.6 572.1,446.3 575.2,443.9 577.0,445.1 579.5,429.1 581.3,448.8 584.0,436.1 585.6,448.2 588.7,444.5 591.8,442.7 594.9,447.6 597.9,449.4 599.2,395.4 601.0,449.4 604.7,447.6 606.8,439.0 608.7,448.8 611.1,442.0 613.0,448.8 616.7,448.2 619.1,445.7 621.6,448.8 623.4,445.7 625.9,449.4 628.1,419.9 630.8,443.9 634.5,447.6 637.2,427.9 638.8,442.0 640.4,425.5 642.5,443.3 646.2,448.2 648.6,446.3 651.1,441.4 652.3,448.2 654.1,439.0 655.4,444.5 657.0,418.7 659.1,446.3 664.0,448.8 667.0,447.0 668.9,429.1 671.3,448.2 674.4,447.0 676.5,432.8 678.5,447.0 679.6,434.7 681.8,447.6 686.1,447.6 688.9,429.1 691.6,445.1 694.1,447.6 695.3,445.7" fill="none" stroke="#cdcdcd" stroke-width="1.1" stroke-linejoin="round" />
<polyline points="439.4,405.4 524.5,405.4" fill="none" stroke="#858585" stroke-width="1.8" stroke-linejoin="round" />
<polyline points="524.5,326.3 697.5,326.3" fill="none" stroke="#8e8e8e" stroke-width="1.2"/>
<rect x="438.5" y="413.8" width="2.4" height="2.8" fill="#a2a2a2"/>
<rect x="438.5" y="424.6" width="2.4" height="2.8" fill="#a2a2a2"/>
<rect x="437.0" y="430.8" width="2" height="1.4" fill="#b0b0b0"/>
<rect x="523.3" y="401.3" width="2.4" height="2.8" fill="#a2a2a2"/>
<rect x="523.3" y="390.9" width="2.4" height="2.8" fill="#a2a2a2"/>
<rect x="523.3" y="380.6" width="2.4" height="2.8" fill="#a2a2a2"/>
<rect x="523.3" y="370.2" width="2.4" height="2.8" fill="#a2a2a2"/>
<rect x="523.3" y="359.9" width="2.4" height="2.8" fill="#a2a2a2"/>
<rect x="523.3" y="349.6" width="2.4" height="2.8" fill="#a2a2a2"/>
<rect x="523.3" y="339.2" width="2.4" height="2.8" fill="#a2a2a2"/>
<polyline points="435.9,315.7 437.8,324.4 439.8,310.4 441.2,325.3 443.1,302.2 444.6,324.8 446.0,318.6 448.9,326.3 451.8,316.7 453.2,319.1 455.2,325.3 456.6,300.3 459.5,323.4 461.4,303.2 462.9,316.7 464.8,313.3 465.3,300.3 467.2,325.3 468.6,327.7 472.0,313.3 474.9,332.1 475.9,300.3 477.8,323.4 479.2,325.3 481.2,319.5 482.1,328.7 484.0,307.0 485.5,321.0 487.4,310.4 488.4,309.9 489.8,300.3 491.7,330.6 493.2,332.1 494.6,319.5 496.6,321.0 499.4,333.0 501.4,326.8 502.3,334.9 506.2,325.8 508.1,338.3 509.6,331.1 512.5,336.9 515.4,333.0 518.8,328.7 520.2,330.6 522.1,339.3 523.6,333.5 524.8,313.8 526.0,316.7 528.9,315.7 532.2,314.7 535.6,318.6 540.4,314.7 543.3,320.0 549.1,320.0 552.5,317.1 555.3,325.8 556.8,316.7 558.7,319.1 563.5,318.6 569.3,320.5 573.1,318.6 574.6,322.0 577.4,318.1 580.8,318.6 582.2,323.9 584.1,318.1 586.5,318.1 588.5,321.0 591.4,319.1 595.0,320.0 599.2,319.6 602.6,320.8 606.4,321.7 607.1,300.3 608.7,300.3 609.2,322.5 610.6,322.5 611.9,319.1 613.2,322.5 615.7,308.2 617.4,318.7 619.5,324.2 622.9,323.8 623.7,323.8 624.5,300.3 625.0,300.3 625.8,323.8 627.9,325.5 630.5,327.2 632.2,326.3 633.9,323.8 635.5,326.3 637.7,328.9 639.8,328.0 640.5,300.3 642.4,300.3 643.1,332.7 644.4,326.3 645.1,329.7 646.3,327.2 647.6,328.4 649.3,321.2 650.6,328.0 651.8,328.4 652.3,300.3 654.2,300.3 654.9,337.3 656.9,308.2 657.7,333.1 659.4,329.7 661.1,331.4 662.8,329.3 664.5,330.1 665.8,332.2 666.2,300.3 667.6,300.3 668.3,334.8 670.4,321.2 671.7,331.4 673.8,330.5 676.3,334.8 678.9,332.7 681.4,336.0 683.9,325.0 686.0,329.7 688.6,330.5 690.7,333.9 691.9,332.2 692.5,300.3 694.3,300.3 694.9,329.7 696.4,330.0 697.0,300.3" fill="none" stroke="#111" stroke-width="1.4" stroke-linejoin="round" />
<text x="566.5" y="518.0" font-size="10" text-anchor="middle" font-weight="bold" fill="#1e1e1e" >run time [h]</text>
<text transform="translate(402.3,392.04999999999995) rotate(-90)" x="0" y="3.60" font-size="10" text-anchor="middle" font-weight="bold" fill="#1e1e1e" stroke="#1e1e1e" stroke-width="0.2">DO [%]</text>
<text transform="translate(732.3,392.04999999999995) rotate(-90)" x="0" y="3.69" font-size="10.25" text-anchor="middle" font-weight="bold" fill="#1e1e1e" stroke="#1e1e1e" stroke-width="0.2">stirrer speed [rpm]</text>
<text transform="translate(787.3,392.04999999999995) rotate(-90)" x="0" y="3.69" font-size="10.25" text-anchor="middle" font-weight="bold" fill="#1e1e1e" stroke="#1e1e1e" stroke-width="0.2">air flow [SLPM]</text>
<line x1="481.4" y1="32.1" x2="504.6" y2="32.1" stroke="#333" stroke-width="1.6" />
<text x="510.4" y="35.800000000000004" font-size="10.4" text-anchor="start" font-weight="bold" fill="#1e1e1e" >DO</text>
<line x1="537.7" y1="32.1" x2="561.2" y2="32.1" stroke="#d6d6d6" stroke-width="1.6" />
<text x="569.0" y="35.800000000000004" font-size="10.4" text-anchor="start" font-weight="bold" fill="#1e1e1e" >air flow</text>
<line x1="621.4" y1="31.7" x2="626.2" y2="31.7" stroke="#9c9c9c" stroke-width="1.6" />
<line x1="632.0" y1="31.7" x2="639.5" y2="31.7" stroke="#9c9c9c" stroke-width="1.6" />
<text x="644.2" y="35.800000000000004" font-size="10.4" text-anchor="start" font-weight="bold" fill="#1e1e1e" >stirrer speed</text>
<text class="cap" x="78.6" y="555.6" font-size="15.6" fill="#1a1a1a" stroke="#1a1a1a" stroke-width="0.2" textLength="696.2" lengthAdjust="spacing"><tspan font-weight="bold" font-size="15.1">Figure 6.</tspan>  The impact of a high stirring speed tested by comparing two cultivations of CHO cells in microbial</text>
<text class="cap" x="78.6" y="573.4" font-size="15.6" fill="#1a1a1a" stroke="#1a1a1a" stroke-width="0.2" textLength="706.3" lengthAdjust="spacing">bioreactors, at different stirring speeds. (<tspan font-weight="bold">A</tspan>,<tspan font-weight="bold">B</tspan>) A standard batch cultivation with a low stirring speed (100 rpm);</text>
<text class="cap" x="78.6" y="591.2" font-size="15.6" fill="#1a1a1a" stroke="#1a1a1a" stroke-width="0.2" textLength="696.2" lengthAdjust="spacing">(<tspan font-weight="bold">C</tspan>,<tspan font-weight="bold">D</tspan>) a batch process with a high stirring speed (300 stepped to 600 rpm). (Left column) Viability (triangles),</text>
<text class="cap" x="78.6" y="609.0" font-size="15.6" fill="#1a1a1a" stroke="#1a1a1a" stroke-width="0.2" textLength="703.0" lengthAdjust="spacing">and counts of total cells (TCC, filled circles) and viable cells (VCC, open circles) in the batch cultivation; (right</text>
<text class="cap" x="78.6" y="626.8" font-size="15.6" fill="#1a1a1a" stroke="#1a1a1a" stroke-width="0.2" textLength="688.0" lengthAdjust="spacing">column) the corresponding dissolved oxygen (DO, black solid line), stirring speed (dotted line), and air flow</text>
<text class="cap" x="78.6" y="644.6" font-size="15.6" fill="#1a1a1a" stroke="#1a1a1a" stroke-width="0.2" textLength="103.4" lengthAdjust="spacing">(solid grey line).</text>
</svg>
</body></html>
